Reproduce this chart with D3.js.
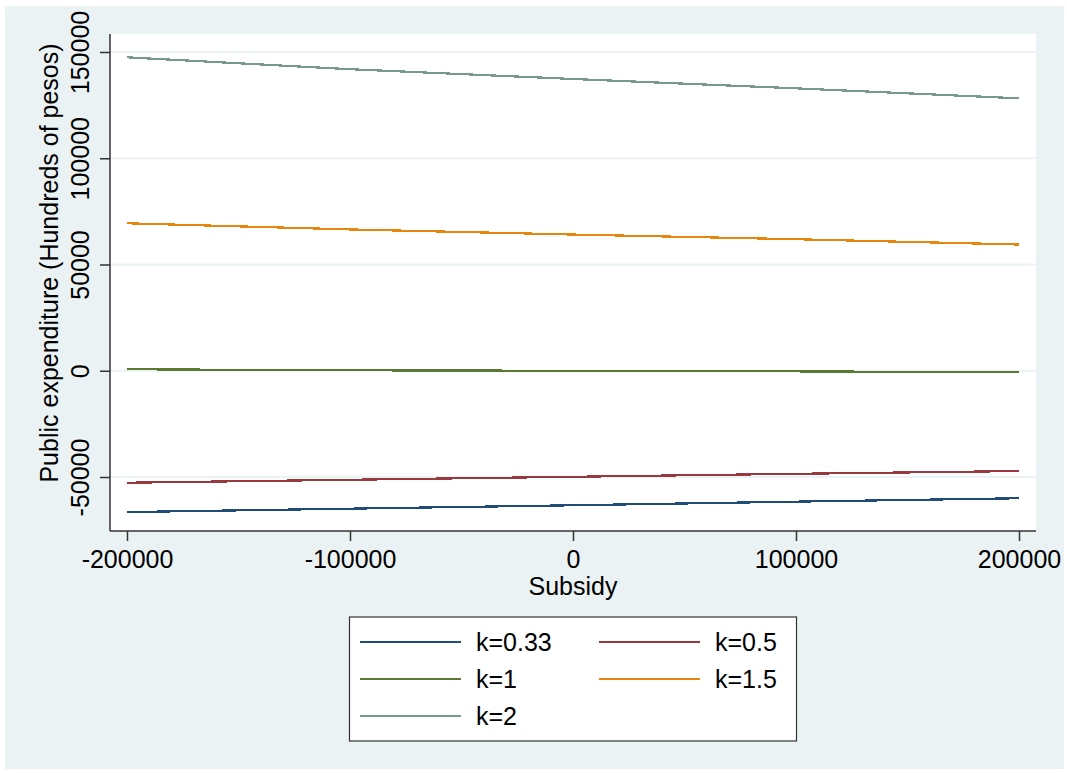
<!DOCTYPE html>
<html>
<head>
<meta charset="utf-8">
<script src="https://cdn.jsdelivr.net/npm/d3@7"></script>
<style>
  body { margin: 0; background: #fff; }
  svg text { font-family: "Liberation Sans", Arial, sans-serif; fill: #000; }
</style>
</head>
<body>
<svg width="1067" height="774"></svg>
<script>
// values
const subsidy = [-200000, -100000, 0, 100000, 200000];
const k033 = [-66500, -64900, -63300, -61600, -60000];
const k05 = [-52700, -51300, -49900, -48500, -47200];
const k1 = [700, 200, 0, -300, -700];
const k15 = [69400, 66500, 64100, 61900, 59400];
const k2 = [147500, 141900, 137300, 132900, 128200];

const seriesNames = ['k=0.33', 'k=0.5', 'k=1', 'k=1.5', 'k=2'];
const seriesValues = [k033, k05, k1, k15, k2];
const seriesColors = ['#1f4d78', '#98393f', '#5a7a33', '#e8850c', '#789a8d'];

const xTicks = [-200000, -100000, 0, 100000, 200000];
const yTicks = [-50000, 0, 50000, 100000, 150000];

const plot = {left: 110, right: 1036, top: 34, bottom: 531};

const svg = d3.select('svg');

// outer stata-like background
svg.append('rect')
    .attr('x', 5).attr('y', 6)
    .attr('width', 1059).attr('height', 763)
    .attr('fill', '#eaf2f3');

svg.append('rect')
    .attr('x', plot.left).attr('y', plot.top)
    .attr('width', plot.right - plot.left)
    .attr('height', plot.bottom - plot.top)
    .attr('fill', '#fff');

const xScale = d3.scaleLinear()
    .domain([-200000, 200000])
    .range([127, 1019]);

const yScale = d3.scaleLinear()
    .domain([-50000, 150000])
    .range([477, 52]);

// grid lines
svg.append('g')
    .selectAll('line')
    .data(yTicks)
    .enter()
    .append('line')
    .attr('x1', plot.left)
    .attr('x2', plot.right)
    .attr('y1', d => yScale(d))
    .attr('y2', d => yScale(d))
    .attr('stroke', '#eaf2f3')
    .attr('stroke-width', 2);

// series lines
const line = d3.line()
    .x((d, i) => xScale(subsidy[i]))
    .y(d => yScale(d));

svg.append('g')
    .selectAll('path')
    .data(seriesValues)
    .enter()
    .append('path')
    .attr('d', d => line(d))
    .attr('fill', 'none')
    .attr('stroke', (d, i) => seriesColors[i])
    .attr('stroke-width', 2.2)
    .attr('shape-rendering', 'crispEdges');

// plain hyphen for negative numbers, like the original
const fmt = d => String(d);

// axes
const xAxis = d3.axisBottom(xScale)
    .tickValues(xTicks)
    .tickFormat(fmt)
    .tickSize(10)
    .tickPadding(9);

const xg = svg.append('g')
    .attr('transform', `translate(0,${plot.bottom})`)
    .call(xAxis);
xg.select('.domain').remove();
xg.append('line')
    .attr('x1', plot.left).attr('x2', plot.right)
    .attr('stroke', '#333').attr('stroke-width', 1.5);
xg.selectAll('.tick line').attr('stroke', '#333').attr('stroke-width', 1.5);
xg.selectAll('.tick text')
    .attr('font-size', 25)
    .attr('fill', '#000')
    .style('font-family', '"Liberation Sans", Arial, sans-serif');

const yAxis = d3.axisLeft(yScale)
    .tickValues(yTicks)
    .tickFormat(fmt)
    .tickSize(10);

const yg = svg.append('g')
    .attr('transform', `translate(${plot.left},0)`)
    .call(yAxis);
yg.select('.domain').remove();
yg.append('line')
    .attr('y1', plot.top).attr('y2', plot.bottom)
    .attr('stroke', '#333').attr('stroke-width', 1.5);
yg.selectAll('.tick line').attr('stroke', '#333').attr('stroke-width', 1.5);
yg.selectAll('.tick text')
    .attr('x', null).attr('dy', null)
    .attr('text-anchor', 'middle')
    .attr('transform', 'translate(-21,0) rotate(-90)')
    .attr('font-size', 25)
    .attr('fill', '#000')
    .style('font-family', '"Liberation Sans", Arial, sans-serif');

// axis titles
svg.append('text')
    .attr('x', 573)
    .attr('y', 595)
    .attr('text-anchor', 'middle')
    .attr('font-size', 25)
    .text('Subsidy');

svg.append('text')
    .attr('transform', 'translate(58,263) rotate(-90)')
    .attr('text-anchor', 'middle')
    .attr('font-size', 25)
    .text('Public expenditure (Hundreds of pesos)');

// legend
const legend = svg.append('g');
legend.append('rect')
    .attr('x', 349.5).attr('y', 617)
    .attr('width', 447).attr('height', 124)
    .attr('fill', '#fff')
    .attr('stroke', '#333')
    .attr('stroke-width', 1.2);

const legendItems = legend.selectAll('.item')
    .data(seriesNames)
    .enter()
    .append('g')
    .classed('item', true)
    .attr('transform', (d, i) => `translate(${i % 2 === 0 ? 360 : 599},${642 + Math.floor(i / 2) * 37})`);

legendItems.append('line')
    .attr('x1', 0).attr('x2', 101)
    .attr('stroke', (d, i) => seriesColors[i])
    .attr('stroke-width', 2.2);

legendItems.append('text')
    .attr('x', 116)
    .attr('y', 9)
    .attr('font-size', 25)
    .text(d => d);
</script>
</body>
</html>
